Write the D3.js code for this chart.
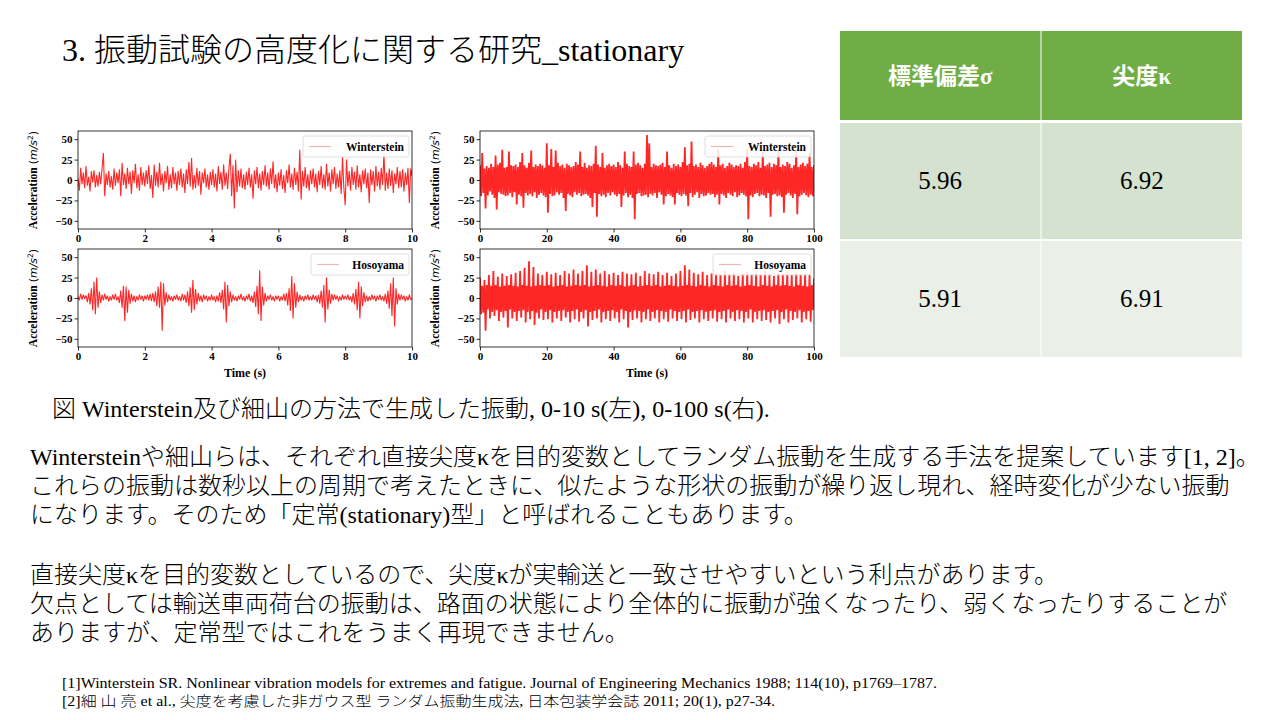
<!DOCTYPE html>
<html>
<head>
<meta charset="utf-8">
<title>振動試験の高度化 stationary</title>
<script src="https://d3js.org/d3.v7.min.js"></script>
<style>
  body { margin: 0; background: #fff; }
  svg text { font-family: "Liberation Serif", "Times New Roman", "Noto Sans CJK JP", serif; }
  .jp { font-weight: 300; }
  .math { font-family: "DejaVu Sans", sans-serif; }
</style>
</head>
<body>
<div id="slide"></div>
<script>
// ---- data (acceleration, m/s^2) ----
// 0-10 s, sampled every 0.04 s
const winter10 = [
  2,-13,15,-5,9,-10,17,-7,4,-14,11,-3,12,-9,6,-8,10,-5,14,33,-20,8,-6,11,-9,
  5,-12,14,-7,9,-4,13,-20,21,-6,8,-11,15,-5,10,-17,12,-4,20,-10,7,-13,16,-6,9,
  -8,12,-5,18,-11,6,-22,19,-7,10,-9,21,-6,8,-14,11,-4,17,-12,7,-10,16,-5,9,-13,
  11,-6,14,-9,8,-16,13,-5,22,-8,27,-12,6,-10,15,-7,11,-18,9,-4,14,-9,7,-12,10,
  -6,13,-9,8,-14,17,-5,10,-12,19,-7,9,-11,15,32,-20,18,-35,25,-15,12,-8,14,-10,7,
  -12,10,-6,15,-9,7,-23,12,-5,16,-10,8,-13,11,-6,18,-8,9,-12,14,-5,23,-10,7,-15,
  9,-7,13,-11,6,-16,12,-4,19,-9,8,-12,15,-6,10,-14,37,-24,11,-8,16,-10,7,-13,12,
  -5,14,-9,8,-15,11,-6,17,-10,7,-12,20,-8,9,-14,13,-5,16,-11,8,-9,12,-17,28,-10,
  -31,25,-8,11,-13,16,-6,10,-12,18,-9,7,-15,12,-5,14,-10,9,-28,13,-6,11,-14,17,-8,
  10,-12,15,-6,33,-13,9,-11,14,-7,12,-16,8,-5,16,-10,11,-9,13,-14,9,-6,15,-28,14,
  5
];
const hoso10 = [
  2,-3,5,-2,4,-1,3,-5,6,-8,12,-15,20,-20,25,-12,8,-6,4,-3,5,-2,3,-4,2,
  -3,4,-2,5,-3,2,-6,9,-12,15,-28,14,-18,10,-7,5,-4,3,-5,2,-3,4,-2,3,-4,
  3,-2,4,-3,5,-4,6,-5,8,-10,14,-12,20,-40,18,-9,7,-5,4,-3,2,-4,3,-2,4,
  -3,2,-4,5,-3,4,-6,8,-10,13,-18,22,-15,11,-8,6,-4,3,-5,4,-2,3,-4,2,-3,
  4,-3,2,-5,3,-4,7,-6,10,-14,20,-30,16,-10,8,-5,4,-3,2,-4,3,-2,5,-3,2,
  -4,3,-2,5,-4,3,-6,8,-11,15,-20,34,-28,14,-9,6,-4,3,-2,4,-3,2,-4,3,-2,
  3,-4,2,-3,5,-4,6,-9,12,-16,27,-25,18,-12,8,-5,4,-3,2,-4,3,-2,4,-3,2,
  -3,4,-2,3,-5,4,-7,9,-12,16,-30,25,-14,10,-7,5,-3,4,-2,3,-4,2,-3,4,-2,
  3,-2,4,-3,2,-5,6,-8,11,-15,20,-25,14,-10,7,-5,3,-4,2,-3,4,-2,3,-4,3,
  -2,4,-3,2,-4,5,-7,9,-13,18,-22,25,-35,12,-8,5,-3,4,-2,3,-4,2,-3,4,-2,
  0
];
// 0-100 s, sampled every 1/3 s (peak / trough per sample)
const winter100 = [
  18,-20,33,-16,14,-35,17,-19,15,-14,20,-18,16,-22,30,-36,19,-15,21,-17,37,-18,15,-20,16,-19,35,-16,18,-21,
  17,-15,19,-30,16,-18,22,-20,33,-34,18,-16,15,-19,21,-17,36,-20,16,-15,19,-22,17,-18,20,-16,18,-19,15,-21,
  45,-40,18,-17,38,-20,16,-19,36,-15,21,-18,17,-16,19,-22,15,-38,20,-17,18,-19,16,-21,17,-15,22,-18,19,-16,
  35,-20,16,-18,21,-17,15,-19,18,-22,17,-33,20,-16,42,-45,19,-17,16,-20,33,-18,15,-21,18,-16,20,-19,17,-15,
  19,-18,16,-20,22,-17,18,-33,15,-19,35,-16,20,-21,17,-18,16,-22,35,-48,19,-17,21,-16,18,-20,15,-19,20,-18,
  55,-21,45,-17,16,-19,20,-16,18,-22,17,-15,19,-18,21,-30,16,-20,35,-17,18,-19,15,-21,20,-30,17,-16,19,-18,
  16,-20,22,-17,40,-19,18,-32,20,-16,47,-21,17,-18,19,-15,16,-22,21,-17,18,-20,15,-19,17,-16,20,-18,22,-17,
  19,-21,16,-18,38,-30,18,-17,20,-19,15,-22,17,-16,21,-18,19,-20,16,-15,18,-21,17,-19,20,-16,15,-18,22,-20,
  38,-48,17,-19,16,-21,20,-17,18,-16,22,-20,15,-18,35,-19,17,-22,19,-16,21,-45,16,-18,20,-17,18,-20,37,-19,
  16,-21,19,-40,17,-18,22,-16,20,-19,15,-22,18,-17,35,-42,16,-20,19,-18,21,-16,17,-19,20,-21,33,-18,16,-20,
  18
];
const hoso100 = [
  25,-20,15,-18,22,-40,16,-14,28,-25,15,-17,33,-22,16,-15,26,-28,14,-17,30,-24,15,-16,27,-36,16,-14,29,-25,
  15,-17,31,-28,14,-16,33,-24,16,-15,37,-30,15,-17,45,-26,14,-16,38,-33,15,-18,30,-25,16,-14,28,-27,15,-17,
  32,-26,16,-15,29,-30,14,-17,31,-25,15,-16,28,-28,16,-15,33,-24,14,-17,30,-30,15,-16,35,-26,16,-14,30,-29,
  15,-17,33,-25,16,-15,40,-35,14,-17,32,-27,15,-16,35,-25,16,-14,30,-30,15,-17,33,-26,14,-16,29,-28,16,-15,
  31,-25,15,-17,28,-30,16,-14,32,-26,14,-16,30,-36,15,-17,29,-27,16,-15,31,-25,14,-16,27,-30,15,-17,33,-26,
  16,-14,30,-28,15,-17,29,-25,16,-15,32,-30,14,-16,28,-26,15,-17,31,-29,16,-14,27,-25,15,-16,30,-28,14,-17,
  33,-26,15,-16,40,-30,16,-14,35,-27,15,-17,31,-25,14,-16,29,-30,16,-15,32,-26,15,-17,28,-28,14,-16,30,-25,
  16,-15,31,-29,15,-17,28,-26,14,-16,33,-30,16,-14,29,-25,15,-17,31,-28,16,-15,27,-26,14,-16,30,-30,15,-17,
  32,-25,16,-14,29,-30,15,-17,31,-26,14,-16,28,-28,16,-15,33,-27,15,-17,30,-30,14,-16,27,-25,16,-15,31,-32,
  15,-17,29,-26,16,-14,32,-30,15,-16,28,-27,14,-17,31,-25,16,-15,29,-30,15,-17,30,-26,14,-16,28,-29,16,-15,
  24
];

const yTicks = [-50, -25, 0, 25, 50];
const xTicks10 = [0, 2, 4, 6, 8, 10];
const xTicks100 = [0, 20, 40, 60, 80, 100];

const tableHead = ["標準偏差σ", "尖度κ"];
const tableRows = [["5.96", "6.92"], ["5.91", "6.91"]];

const title = "3. 振動試験の高度化に関する研究_stationary";
const caption = "図 Winterstein及び細山の方法で生成した振動, 0-10 s(左), 0-100 s(右).";
const bodyLines = [
  "Wintersteinや細山らは、それぞれ直接尖度κを目的変数としてランダム振動を生成する手法を提案しています[1, 2]。",
  "これらの振動は数秒以上の周期で考えたときに、似たような形状の振動が繰り返し現れ、経時変化が少ない振動",
  "になります。そのため「定常(stationary)型」と呼ばれることもあります。",
  "",
  "直接尖度κを目的変数としているので、尖度κが実輸送と一致させやすいという利点があります。",
  "欠点としては輸送車両荷台の振動は、路面の状態により全体的に振動が強くなったり、弱くなったりすることが",
  "ありますが、定常型ではこれをうまく再現できません。"
];
const refs = [
  "[1]Winterstein SR. Nonlinear vibration models for extremes and fatigue. Journal of Engineering Mechanics 1988; 114(10), p1769–1787.",
  "[2]細 山 亮 et al., 尖度を考慮した非ガウス型 ランダム振動生成法, 日本包装学会誌 2011; 20(1), p27-34."
];

const svg = d3.select("#slide").append("svg")
  .attr("width", 1280).attr("height", 720)
  .style("display", "block");

svg.append("rect").attr("width", 1280).attr("height", 720).attr("fill", "#fff");

// title
svg.append("text").attr("class", "jp")
  .attr("x", 62).attr("y", 61)
  .attr("font-size", 32)
  .text(title);

// ---- panels ----
const panels = [
  {data: winter10, tmax: 10, ticks: xTicks10, name: "Winterstein", left: 78, top: 131, time: false},
  {data: winter100, tmax: 100, ticks: xTicks100, name: "Winterstein", left: 480, top: 131, time: false},
  {data: hoso10, tmax: 10, ticks: xTicks10, name: "Hosoyama", left: 78, top: 249, time: true},
  {data: hoso100, tmax: 100, ticks: xTicks100, name: "Hosoyama", left: 480, top: 249, time: true}
];

const pw = 334, ph = 98;

panels.forEach(function(p, k) {
  const g = svg.append("g").attr("transform", "translate(" + p.left + "," + p.top + ")");
  const x = d3.scaleLinear().domain([0, p.tmax]).range([0, pw]);
  const y = d3.scaleLinear().domain([-60, 60]).range([ph, 0]);
  const dt = p.tmax / (p.data.length - 1);

  g.append("clipPath").attr("id", "clip" + k)
    .append("rect").attr("width", pw).attr("height", ph);

  const line = d3.line()
    .x(function(d, i) { return x(i * dt); })
    .y(function(d) { return y(d); });

  g.append("path")
    .datum(p.data)
    .attr("clip-path", "url(#clip" + k + ")")
    .attr("d", line)
    .attr("fill", "none")
    .attr("stroke", "red")
    .attr("stroke-opacity", 0.85)
    .attr("stroke-linejoin", "bevel")
    .attr("stroke-width", p.tmax > 10 ? 1.8 : 1.1);

  const xAxis = d3.axisBottom(x).tickValues(p.ticks).tickSize(3.5).tickSizeOuter(0).tickPadding(2);
  const yAxis = d3.axisLeft(y).tickValues(yTicks).tickSize(3.5).tickSizeOuter(0).tickPadding(2);

  const gx = g.append("g").attr("transform", "translate(0," + ph + ")").call(xAxis);
  const gy = g.append("g").call(yAxis);
  [gx, gy].forEach(function(a) {
    a.attr("font-family", null);
    a.select(".domain").remove();
    a.selectAll("line").attr("stroke", "#000").attr("stroke-width", 0.8);
    a.selectAll("text")
      .style("font-family", "'Liberation Serif', serif")
      .attr("font-weight", "bold")
      .attr("font-size", 11)
      .attr("fill", "#000");
  });

  // frame
  g.append("rect").attr("width", pw).attr("height", ph)
    .attr("fill", "none").attr("stroke", "#000").attr("stroke-width", 0.8);

  // legend
  const lw = p.name === "Winterstein" ? 106 : 98, lh = 21;
  const lg = g.append("g").attr("transform", "translate(" + (pw - lw - 3) + ",5)");
  lg.append("rect").attr("width", lw).attr("height", lh).attr("rx", 2.5)
    .attr("fill", "#fff").attr("fill-opacity", 0.85)
    .attr("stroke", "#d6d6d6").attr("stroke-width", 0.8);
  lg.append("line").attr("x1", 6).attr("x2", 28).attr("y1", lh / 2).attr("y2", lh / 2)
    .attr("stroke", "#f6b3b3").attr("stroke-width", 1.2);
  lg.append("text").attr("x", lw - 5).attr("y", lh / 2 + 4)
    .attr("text-anchor", "end")
    .attr("font-weight", "bold").attr("font-size", 11.5)
    .text(p.name);

  // y label
  const yl = g.append("text")
    .attr("transform", "translate(-41," + (ph / 2) + ") rotate(-90)")
    .attr("text-anchor", "middle")
    .attr("font-size", 11.5);
  yl.append("tspan").attr("font-weight", "bold").text("Acceleration ");
  yl.append("tspan").attr("class", "math").attr("font-size", 11).text("(");
  yl.append("tspan").attr("class", "math").attr("font-style", "italic").attr("font-size", 11).text("m/s");
  yl.append("tspan").attr("class", "math").attr("font-size", 7.5).attr("dy", -4.5).text("2");
  yl.append("tspan").attr("class", "math").attr("font-size", 11).attr("dy", 4.5).text(")");

  if (p.time) {
    g.append("text").attr("x", pw / 2).attr("y", ph + 30)
      .attr("text-anchor", "middle")
      .attr("font-weight", "bold").attr("font-size", 12)
      .text("Time (s)");
  }
});

// ---- table ----
const colX = d3.scaleBand().domain([0, 1]).range([840, 1242]).paddingInner(0.005);
const rowTops = [31, 123, 241];
const rowH = [89, 116, 116];
const rowFill = ["#70AD47", "#D5E2CF", "#EAEFE7"];

const cells = [];
[tableHead].concat(tableRows).forEach(function(r, ri) {
  r.forEach(function(v, ci) { cells.push({r: ri, c: ci, v: v}); });
});

const cg = svg.append("g").selectAll("g").data(cells).enter().append("g");
cg.append("rect")
  .attr("x", function(d) { return colX(d.c); })
  .attr("y", function(d) { return rowTops[d.r]; })
  .attr("width", colX.bandwidth())
  .attr("height", function(d) { return rowH[d.r]; })
  .attr("fill", function(d) { return rowFill[d.r]; });
cg.append("text")
  .attr("x", function(d) { return colX(d.c) + colX.bandwidth() / 2; })
  .attr("y", function(d) { return rowTops[d.r] + rowH[d.r] / 2 + 8; })
  .attr("text-anchor", "middle")
  .attr("font-weight", function(d) { return d.r === 0 ? "bold" : "normal"; })
  .attr("font-size", function(d) { return d.r === 0 ? 23 : 25; })
  .attr("fill", function(d) { return d.r === 0 ? "#fff" : "#000"; })
  .text(function(d) { return d.v; });

// ---- caption and body ----
svg.append("text").attr("class", "jp")
  .attr("x", 52).attr("y", 417)
  .attr("font-size", 24)
  .text(caption);

const bodyBase = [465, 494, 523, 552, 583, 612, 641];
svg.append("g").selectAll("text").data(bodyLines).enter().append("text")
  .attr("class", "jp")
  .attr("x", 30)
  .attr("y", function(d, i) { return bodyBase[i]; })
  .attr("font-size", 24)
  .text(function(d) { return d; });

// references
const refLen = [875, 713];
svg.append("g").selectAll("text").data(refs).enter().append("text")
  .attr("class", "jp")
  .attr("x", 62)
  .attr("y", function(d, i) { return 688 + i * 18; })
  .attr("font-size", 14)
  .attr("textLength", function(d, i) { return refLen[i]; })
  .attr("lengthAdjust", "spacingAndGlyphs")
  .text(function(d) { return d; });
</script>
</body>
</html>
